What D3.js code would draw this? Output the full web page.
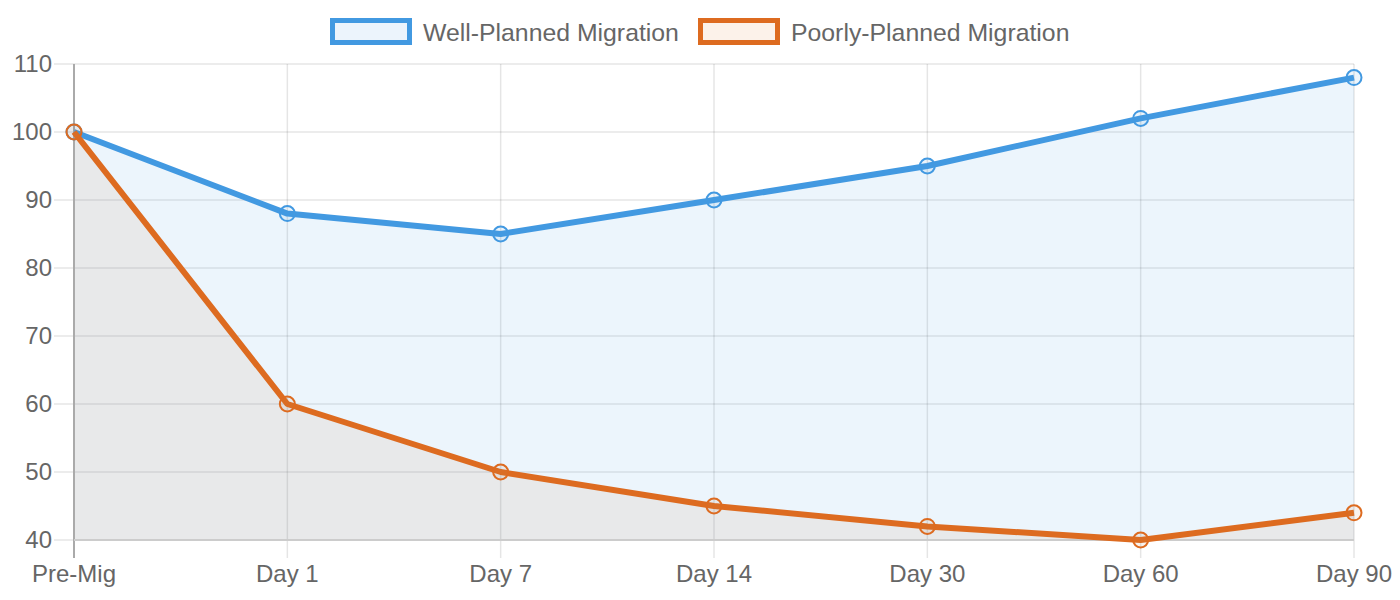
<!DOCTYPE html>
<html>
<head>
<meta charset="utf-8">
<script src="https://cdn.jsdelivr.net/npm/d3@7"></script>
<style>
  body { margin: 0; background: #fff; }
  text { font-family: "Liberation Sans", Arial, sans-serif; fill: #666; }
</style>
</head>
<body>
<div id="chart"></div>
<script>
// data
const categories = ['Pre-Mig', 'Day 1', 'Day 7', 'Day 14', 'Day 30', 'Day 60', 'Day 90'];
const wellPlanned = [100, 88, 85, 90, 95, 102, 108];
const poorlyPlanned = [100, 60, 50, 45, 42, 40, 44];
const yTicks = [40, 50, 60, 70, 80, 90, 100, 110];

const width = 1400, height = 600;
const plotLeft = 74, plotRight = 1354, plotTop = 64, plotBottom = 540;
const fontSize = 24;

const svg = d3.select('#chart').append('svg')
    .attr('width', width)
    .attr('height', height);

const x = d3.scalePoint().domain(categories).range([plotLeft, plotRight]);
const y = d3.scaleLinear().domain([40, 110]).range([plotBottom, plotTop]);

// grid
const grid = svg.append('g').attr('stroke', 'rgba(0,0,0,0.1)').attr('stroke-width', 1.5);
grid.selectAll('line.h')
  .data(yTicks)
  .join('line')
    .attr('class', 'h')
    .attr('x1', plotLeft - 20).attr('x2', plotRight)
    .attr('y1', d => y(d)).attr('y2', d => y(d));
grid.selectAll('line.v')
  .data(categories.slice(1))
  .join('line')
    .attr('class', 'v')
    .attr('x1', d => x(d)).attr('x2', d => x(d))
    .attr('y1', plotTop).attr('y2', plotBottom + 18);

const series = [
  { name: 'Well-Planned Migration', values: wellPlanned, color: '#4299e1', fill: 'rgba(66,153,225,0.1)' },
  { name: 'Poorly-Planned Migration', values: poorlyPlanned, color: '#dd6b20', fill: 'rgba(196,125,82,0.1)' }
];

const area = d3.area()
    .x((d, i) => x(categories[i]))
    .y0(plotBottom)
    .y1(d => y(d));
const line = d3.line()
    .x((d, i) => x(categories[i]))
    .y(d => y(d));

svg.append('g').selectAll('path')
  .data(series)
  .join('path')
    .attr('d', d => area(d.values))
    .attr('fill', d => d.fill);

// axes lines
svg.append('line')
    .attr('x1', plotLeft).attr('x2', plotLeft)
    .attr('y1', plotTop).attr('y2', plotBottom + 18)
    .attr('stroke', '#aaa').attr('stroke-width', 2);
svg.append('line')
    .attr('x1', plotLeft).attr('x2', plotRight)
    .attr('y1', plotBottom).attr('y2', plotBottom)
    .attr('stroke', '#ccc').attr('stroke-width', 2);

// tick labels
svg.append('g').selectAll('text')
  .data(yTicks)
  .join('text')
    .attr('x', 52)
    .attr('y', d => y(d))
    .attr('dy', '0.35em')
    .attr('text-anchor', 'end')
    .attr('font-size', fontSize)
    .text(d => d);

svg.append('g').selectAll('text')
  .data(categories)
  .join('text')
    .attr('x', d => x(d))
    .attr('y', 574)
    .attr('dy', '0.35em')
    .attr('text-anchor', 'middle')
    .attr('font-size', fontSize)
    .text(d => d);

// lines + points
series.forEach(s => {
  svg.append('path')
      .attr('d', line(s.values))
      .attr('fill', 'none')
      .attr('stroke', s.color)
      .attr('stroke-width', 6)
      .attr('stroke-linejoin', 'round');
  svg.append('g').selectAll('circle')
    .data(s.values)
    .join('circle')
      .attr('cx', (d, i) => x(categories[i]))
      .attr('cy', d => y(d))
      .attr('r', 7.5)
      .attr('fill', s.fill)
      .attr('stroke', s.color)
      .attr('stroke-width', 2);
});

// legend
const legendItems = [
  { x: 330, s: series[0], box: '#ecf4fc' },
  { x: 698, s: series[1], box: '#fcf2ea' }
];
const lg = svg.append('g');
legendItems.forEach(l => {
  lg.append('rect')
      .attr('x', l.x + 2.5).attr('y', 20.5)
      .attr('width', 77).attr('height', 22)
      .attr('fill', l.box)
      .attr('stroke', l.s.color)
      .attr('stroke-width', 5);
  lg.append('text')
      .attr('x', l.x + 93).attr('y', 32)
      .attr('dy', '0.35em')
      .attr('font-size', 24.8)
      .text(l.s.name);
});
</script>
</body>
</html>
